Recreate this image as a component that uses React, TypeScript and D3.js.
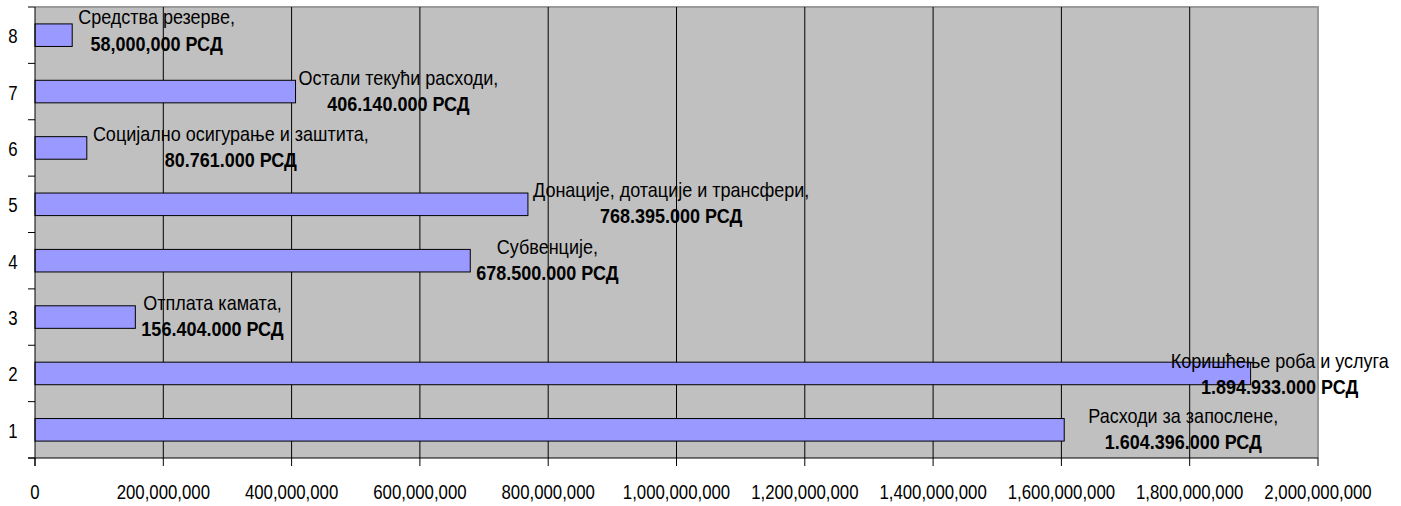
import React from 'react';
import * as d3 from 'd3';

// категорије (редни бројеви на Y оси), одоздо нагоре
const categories = ['1', '2', '3', '4', '5', '6', '7', '8'];
const itemNames = [
  'Расходи за запослене,',
  'Коришћење роба и услуга',
  'Отплата камата,',
  'Субвенције,',
  'Донације, дотације и трансфери,',
  'Социјално осигурање и заштита,',
  'Остали текући расходи,',
  'Средства резерве,',
];
const amounts = [1604396000, 1894933000, 156404000, 678500000, 768395000, 80761000, 406140000, 58000000];
const amountLabels = [
  '1.604.396.000 РСД',
  '1.894.933.000 РСД',
  '156.404.000 РСД',
  '678.500.000 РСД',
  '768.395.000 РСД',
  '80.761.000 РСД',
  '406.140.000 РСД',
  '58,000,000 РСД',
];
const xTicks = [0, 2e8, 4e8, 6e8, 8e8, 1e9, 1.2e9, 1.4e9, 1.6e9, 1.8e9, 2e9];

// помак блока натписа од краја траке (пиксели)
const labelDx = [24, -80, 6, 6, 5, 6, 3, 6];
const labelDy = [0, 2, 0, 0, 0, 0, 0, -3];

const W = 1401, H = 506;
const plot = { left: 35, top: 7, right: 1318, bottom: 458 };
const FONT = "'Liberation Sans', Arial, sans-serif";
const LABEL_SIZE = 20, LABEL_SX = 0.9;
const AXIS_SIZE = 21, AXIS_SX = 0.8;

let ctx: CanvasRenderingContext2D | null = null;
const measure = (txt: string, size: number, bold: boolean) => {
  if (!ctx) ctx = document.createElement('canvas').getContext('2d');
  if (!ctx) return txt.length * size * 0.5;
  ctx.font = `${bold ? 'bold ' : ''}${size}px ${FONT}`;
  return ctx.measureText(txt).width;
};

const SText = ({ x, y, sx, size, bold = false, anchor = 'middle', children }: any) => (
  <text
    transform={`translate(${x},${y}) scale(${sx},1)`}
    textAnchor={anchor}
    fontFamily={FONT}
    fontSize={size}
    fontWeight={bold ? 'bold' : 'normal'}
    fill="#000"
  >
    {children}
  </text>
);

export default function App() {
  const x = d3.scaleLinear().domain([0, 2e9]).range([plot.left, plot.right]);
  const y = d3
    .scaleBand<string>()
    .domain([...categories].reverse())
    .range([plot.top, plot.bottom])
    .paddingInner(0.6)
    .paddingOuter(0.3);
  const step = y.step();
  const bounds = d3.range(categories.length + 1).map(k => plot.top + k * step);

  return (
    <svg width={W} height={H} style={{ position: 'absolute', left: 0, top: 0, background: '#fff' }}>
      <rect x={plot.left} y={plot.top} width={plot.right - plot.left} height={plot.bottom - plot.top} fill="#C0C0C0" />
      {/* рамка горе и десно */}
      <path
        d={`M${plot.left},${plot.top}H${plot.right}V${plot.bottom}`}
        fill="none"
        stroke="#999"
        strokeWidth={2}
      />
      {/* вертикалне линије мреже */}
      {xTicks.slice(1, -1).map(t => (
        <line key={t} x1={x(t)} x2={x(t)} y1={plot.top} y2={plot.bottom} stroke="#000" strokeWidth={1} />
      ))}
      {/* траке */}
      {categories.map((c, i) => (
        <rect
          key={c}
          x={x(0)}
          y={y(c)}
          width={x(amounts[i]) - x(0)}
          height={y.bandwidth()}
          fill="#9999FF"
          stroke="#000"
          strokeWidth={1}
        />
      ))}
      {/* осе */}
      <line x1={plot.left} x2={plot.left} y1={plot.top} y2={plot.bottom + 8} stroke="#000" />
      <line x1={plot.left - 7} x2={plot.right} y1={plot.bottom} y2={plot.bottom} stroke="#000" />
      {bounds.map((b, k) => (
        <line key={k} x1={plot.left - 7} x2={plot.left} y1={b} y2={b} stroke="#000" />
      ))}
      {xTicks.map(t => (
        <line key={t} x1={x(t)} x2={x(t)} y1={plot.bottom} y2={plot.bottom + 8} stroke="#000" />
      ))}
      {categories.map(c => (
        <SText key={c} x={13} y={(y(c) ?? 0) + y.bandwidth() / 2 + 8} sx={AXIS_SX} size={AXIS_SIZE}>
          {c}
        </SText>
      ))}
      {xTicks.map(t => (
        <SText key={t} x={x(t)} y={499} sx={AXIS_SX} size={AXIS_SIZE}>
          {d3.format(',')(t)}
        </SText>
      ))}
      {/* натписи података */}
      {categories.map((c, i) => {
        const w1 = measure(itemNames[i], LABEL_SIZE, false) * LABEL_SX;
        const w2 = measure(amountLabels[i], LABEL_SIZE, true) * LABEL_SX;
        const left = x(amounts[i]) + labelDx[i];
        const cx = left + Math.max(w1, w2) / 2;
        const cy = (y(c) ?? 0) + y.bandwidth() / 2 + labelDy[i];
        return (
          <g key={c}>
            <SText x={cx} y={cy - 7 + (i === 7 ? -1 : 0)} sx={LABEL_SX} size={LABEL_SIZE}>
              {itemNames[i]}
            </SText>
            <SText x={cx} y={cy + 19} sx={LABEL_SX} size={LABEL_SIZE} bold>
              {amountLabels[i]}
            </SText>
          </g>
        );
      })}
    </svg>
  );
}
